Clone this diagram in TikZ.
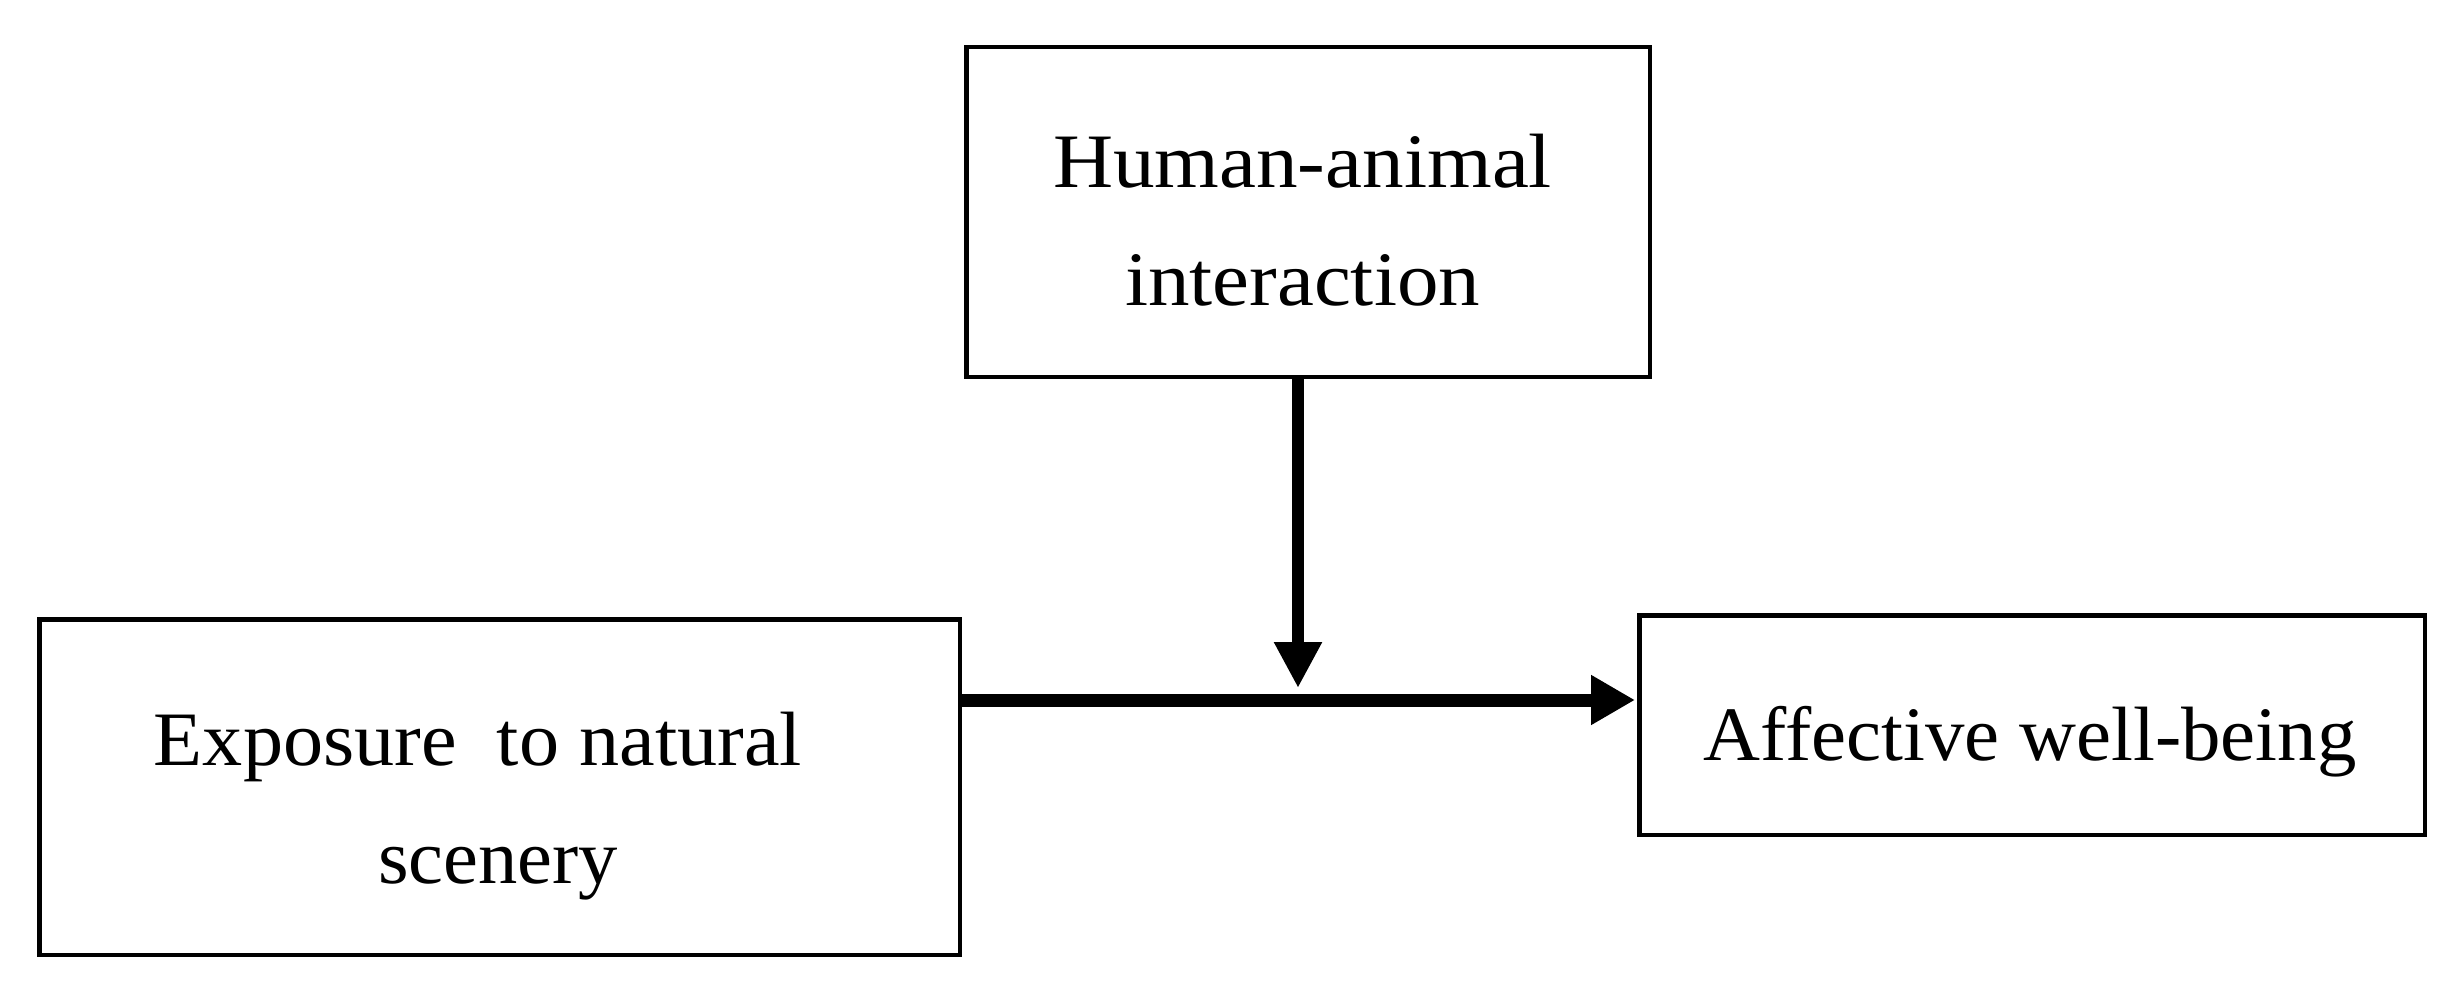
\documentclass[tikz,border=0pt]{standalone}
\usepackage{fontspec}
\setmainfont{Liberation Serif}
\usetikzlibrary{arrows.meta}
\newcommand{\fitw}[2]{\resizebox{#1}{\height}{#2}}
\begin{document}
\begin{tikzpicture}[x=1pt,y=-1pt,
  box/.style={draw=black,line width=4.5pt,rectangle,inner sep=0pt},
  lbl/.style={inner sep=0pt,anchor=base,font=\fontsize{77}{92}\selectfont},
  harr/.style={line width=13pt,shorten >=2pt,-{Triangle[width=47pt,length=44pt]}},
  varr/.style={line width=12pt,-{Triangle[width=45pt,length=46pt]}}]
\useasboundingbox[fill=white] (0,0) rectangle (2460,984);
% boxes
\node[box,minimum width=683.5pt,minimum height=329.5pt] (hai) at (1308,212) {};
\node[box,minimum width=920.5pt,minimum height=335.5pt] (exp) at (499.5,787) {};
\node[box,minimum width=785.5pt,minimum height=219.5pt] (awb) at (2032,725) {};
% labels
\node[lbl] (hai1) at (1302.5,188) {\fitw{499pt}{Human-animal}};
\node[lbl] (hai2) at (1302.5,306) {\fitw{355pt}{interaction}};
\node[lbl] (exp1) at (478,765) {\fitw{648pt}{Exposure\ \ to natural}};
\node[lbl] (exp2) at (498,883) {\fitw{240pt}{scenery}};
\node[lbl] (awb1) at (2030,760) {\fitw{653pt}{Affective well-being}};
% connectors
\coordinate (hy) at (0,700);
\coordinate (vx) at (1298,0);
\coordinate (vt) at (1298,688);
\draw[harr] (exp.east |- hy) -- (awb.west |- hy);
\draw[varr] (hai.south -| vx) -- (vt);
\end{tikzpicture}
\end{document}
